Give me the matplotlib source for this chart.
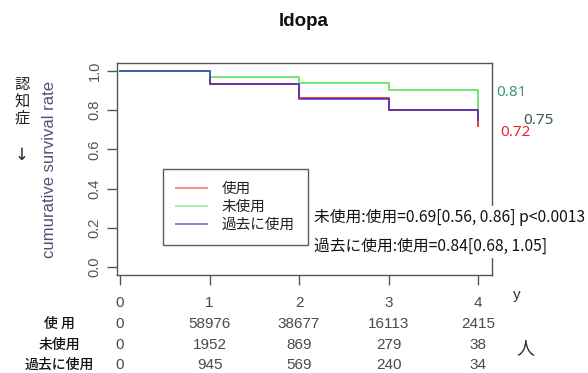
import matplotlib
matplotlib.use("Agg")
import matplotlib.pyplot as plt
import matplotlib.transforms as mtransforms

plt.rcParams['font.family'] = ['Liberation Sans', 'Noto Sans CJK JP', 'DejaVu Sans']

# Follow-up time (years) and survival estimates per group
years = [0, 1, 2, 3, 4]
surv_used = [1.0, 0.935, 0.86, 0.80, 0.72]
surv_never = [1.0, 0.97, 0.94, 0.905, 0.81]
surv_past = [1.0, 0.935, 0.855, 0.80, 0.75]

group_labels = ["使用", "未使用", "過去に使用"]
row_labels = ["使 用", "未使用", "過去に使用"]

# Number at risk per group at each year
at_risk_used = [0, 58976, 38677, 16113, 2415]
at_risk_never = [0, 1952, 869, 279, 38]
at_risk_past = [0, 945, 569, 240, 34]

final_labels = ["0.81", "0.75", "0.72"]
hr_lines = ["未使用:使用=0.69[0.56, 0.86] p<0.0013",
            "過去に使用:使用=0.84[0.68, 1.05]"]

W, H = 588, 373
fig = plt.figure(figsize=(W / 100, H / 100), dpi=100)


def fx(px):
    return px / W


def fy(py):
    return 1 - py / H


ax = fig.add_axes([fx(117), fy(275), fx(492) - fx(117), fy(63) - fy(275)])

c_red = "#f03a3a"
c_green = "#6ee86e"
c_blue = "#3434c8"

ax.step(years, surv_used, where="post", color=c_red, lw=1.4, label=group_labels[0])
ax.step(years, surv_never, where="post", color=c_green, lw=1.4, label=group_labels[1])
ax.step(years, surv_past, where="post", color=c_blue, lw=1.4, alpha=0.75,
        label=group_labels[2])

ax.set_xlim(-0.034, 4.156)
ax.set_ylim(-0.04, 1.04)
ax.set_xticks(years)
ax.set_xticklabels([])
ax.set_yticks([0, 0.2, 0.4, 0.6, 0.8, 1.0])
ax.set_yticklabels(["0.0", "0.2", "0.4", "0.6", "0.8", "1.0"], rotation=90,
                   va="center", fontsize=10.5, color="#555555")
ax.tick_params(axis="both", direction="out", length=7, width=1, color="#555555")
ax.tick_params(axis="y", pad=4)
for sp in ax.spines.values():
    sp.set_color("#555555")
    sp.set_linewidth(1)

ax.set_ylabel("cumurative survival rate", fontsize=12, color="#4a5570", labelpad=22)

# Legend
leg_handles, leg_labels = ax.get_legend_handles_labels()
leg = ax.legend(leg_handles, leg_labels, loc="upper left",
                bbox_to_anchor=(fx(163), fy(169)), bbox_transform=fig.transFigure,
                frameon=True, fancybox=False, edgecolor="#333333",
                handlelength=2.1, handletextpad=1.0,
                labelspacing=0.28, borderpad=0.9, borderaxespad=0,
                prop={'family': ['Noto Sans CJK JP'], 'size': 10.5})
leg.get_frame().set_linewidth(1)
for t in leg.get_texts():
    t.set_color("#222222")
for lh in leg.get_lines():
    lh.set_alpha(0.6)

# Title
fig.text(fx(304), fy(22), "ldopa", ha="center", va="center", fontsize=13.5,
         fontweight="bold", color="#111111")

# Final survival values at the right end
label_colors = ["#3a9a6e", "#3d5a50", "#e8242c"]
label_pos = [(496, 93), (523, 120), (500, 133)]
for txt, col, (px, py) in zip(final_labels, label_colors, label_pos):
    fig.text(fx(px), fy(py), txt, ha="left", va="center", fontsize=11,
             color=col, family=["Noto Sans"])

# Hazard ratio annotation with white background
fig.text(fx(314), fy(232), hr_lines[0] + "\n" + hr_lines[1], ha="left", va="center",
         fontsize=11.3, color="#111111", linespacing=1.9,
         family=["Noto Sans CJK JP", "DejaVu Sans"],
         bbox=dict(facecolor="white", edgecolor="none", pad=2))

# Vertical outcome label
fig.text(fx(22), fy(101), "認\n知\n症", ha="center", va="center", fontsize=11,
         color="#222222", linespacing=1.0, family=["Noto Sans CJK JP", "DejaVu Sans"])
fig.text(fx(22), fy(155), "↓", ha="center", va="center", fontsize=12,
         color="#222222", family=["DejaVu Sans"])

# Number-at-risk table
blend = mtransforms.blended_transform_factory(ax.transData, fig.transFigure)
num_color = "#4a4a4a"
for x in years:
    ax.text(x, fy(303), str(x), transform=blend, ha="center", va="center",
            fontsize=11, color=num_color, clip_on=False)
row_y = [324, 345, 365]
for label, counts, py in zip(row_labels, [at_risk_used, at_risk_never, at_risk_past], row_y):
    fig.text(fx(59), fy(py), label, ha="center", va="center", fontsize=10,
             color="#111111", family=["Noto Sans CJK JP"], fontweight="medium")
    for x, n in zip(years, counts):
        ax.text(x, fy(py), str(n), transform=blend, ha="center", va="center",
                fontsize=11, color=num_color, clip_on=False)

fig.text(fx(517), fy(295), "y", ha="center", va="center", fontsize=11, color="#333333")
fig.text(fx(525), fy(348), "人", ha="center", va="center", fontsize=13,
         color="#333333", family=["Noto Sans CJK JP"])

fig.savefig("out.png", dpi=100, facecolor="white")
